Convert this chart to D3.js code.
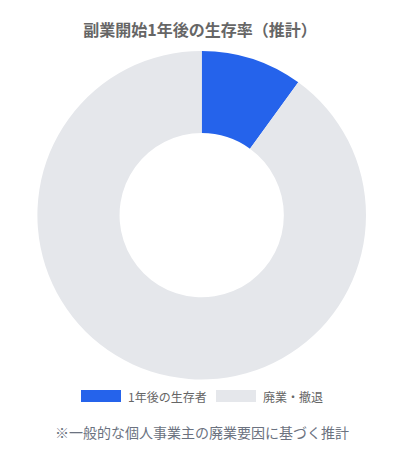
<!DOCTYPE html>
<html>
<head>
<meta charset="utf-8">
<script src="https://cdn.jsdelivr.net/npm/d3@7"></script>
<style>
  html, body { margin: 0; padding: 0; background: #fff; }
  svg { display: block; font-family: "Noto Sans CJK JP", "Noto Sans", sans-serif; }
</style>
</head>
<body>
<svg id="chart"></svg>
<script>
// データ
const labels = ['1年後の生存者', '廃業・撤退'];
const values = [10, 90];
const colors = ['#2563eb', '#e5e7eb'];
const title = '副業開始1年後の生存率（推計）';
const note = '※一般的な個人事業主の廃業要因に基づく推計';

const width = 400;
const height = 456;
const cx = 201.7, cy = 215.2;
const outerR = 164.3;

const svg = d3.select('#chart')
  .attr('width', width)
  .attr('height', height)
  .attr('viewBox', [0, 0, width, height]);

// タイトル
svg.append('text')
  .attr('x', 200)
  .attr('y', 29)
  .attr('text-anchor', 'middle')
  .attr('dominant-baseline', 'central')
  .attr('font-size', 16)
  .attr('font-weight', 'bold')
  .attr('fill', '#666')
  .text(title);

const pie = d3.pie().sort(null).value(d => d);
const arc = d3.arc().innerRadius(outerR * 0.5).outerRadius(outerR);

const g = svg.append('g').attr('transform', `translate(${cx},${cy})`);
g.selectAll('path')
  .data(pie(values))
  .join('path')
  .attr('d', arc)
  .attr('fill', (d, i) => colors[i]);

// 凡例
const legendItems = [
  { x: 81, label: labels[0], color: colors[0] },
  { x: 216, label: labels[1], color: colors[1] },
];
const legend = svg.append('g');
legendItems.forEach(item => {
  legend.append('rect')
    .attr('x', item.x)
    .attr('y', 390)
    .attr('width', 40)
    .attr('height', 12)
    .attr('fill', item.color);
  legend.append('text')
    .attr('x', item.x + 47)
    .attr('y', 396)
    .attr('dominant-baseline', 'central')
    .attr('font-size', 12)
    .attr('fill', '#666')
    .text(item.label);
});

// 注記
svg.append('text')
  .attr('x', 202)
  .attr('y', 432)
  .attr('text-anchor', 'middle')
  .attr('dominant-baseline', 'central')
  .attr('font-size', 14)
  .attr('fill', '#6b7280')
  .text(note);
</script>
</body>
</html>
